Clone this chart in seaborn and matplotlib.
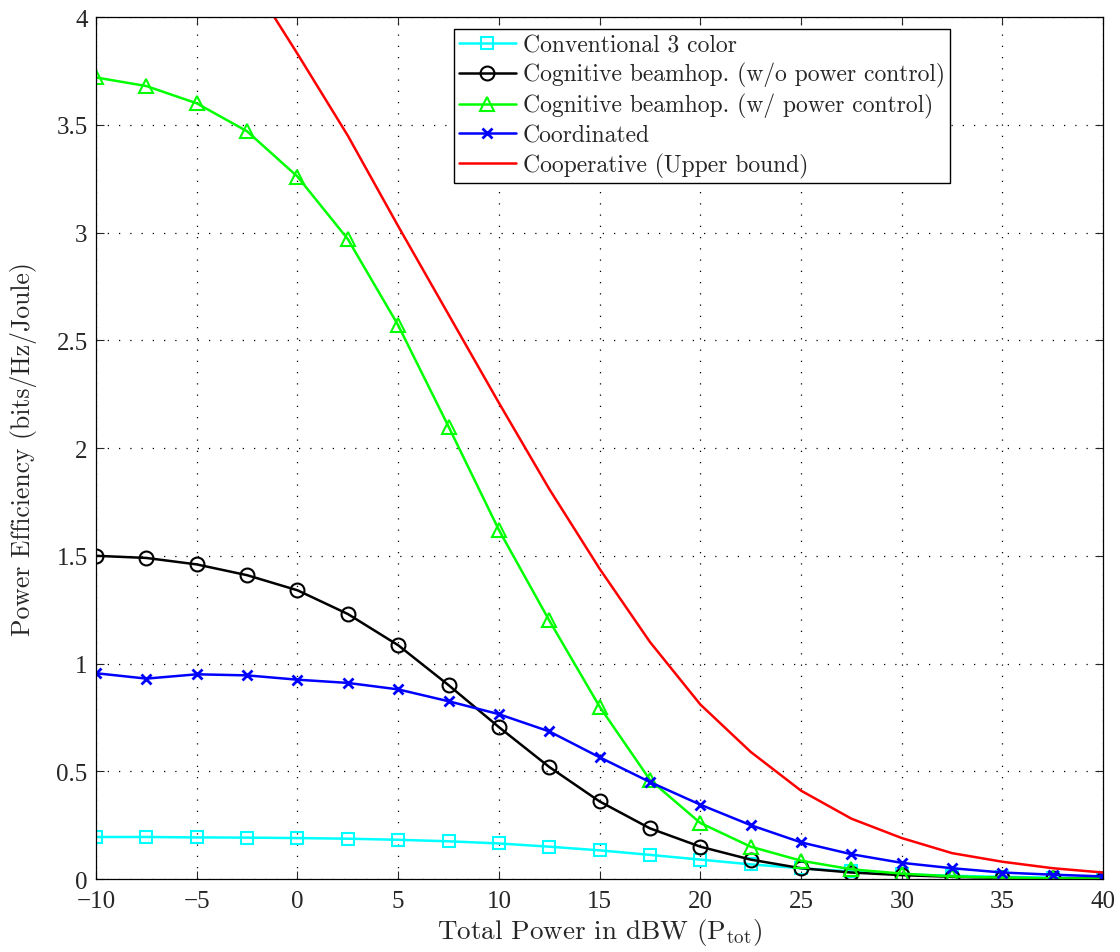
import matplotlib
matplotlib.use("Agg")
import matplotlib.pyplot as plt
from matplotlib.ticker import FuncFormatter, MultipleLocator
import seaborn as sns

# data (x in dBW, y in bits/Hz/Joule)
power_dbw = [-10, -7.5, -5, -2.5, 0, 2.5, 5, 7.5, 10, 12.5, 15, 17.5, 20,
             22.5, 25, 27.5, 30, 32.5, 35, 37.5, 40]

conventional = [0.195, 0.195, 0.193, 0.192, 0.190, 0.187, 0.182, 0.175, 0.165,
                0.150, 0.133, 0.112, 0.090, 0.068, 0.050, 0.035, 0.022, 0.015,
                0.010, 0.006, 0.004]
cog_no_pc = [1.50, 1.49, 1.46, 1.41, 1.34, 1.23, 1.085, 0.90, 0.705, 0.52,
             0.36, 0.235, 0.15, 0.09, 0.05, 0.03, 0.018, 0.010, 0.005, 0.003,
             0.002]
cog_pc = [3.72, 3.68, 3.60, 3.47, 3.26, 2.97, 2.57, 2.10, 1.62, 1.20, 0.80,
          0.46, 0.26, 0.15, 0.085, 0.045, 0.025, 0.012, 0.006, 0.003, 0.002]
coordinated = [0.955, 0.93, 0.95, 0.945, 0.925, 0.91, 0.88, 0.825, 0.765,
               0.685, 0.565, 0.45, 0.345, 0.25, 0.17, 0.115, 0.075, 0.05,
               0.03, 0.02, 0.012]
cooperative = [5.10, 4.85, 4.55, 4.20, 3.83, 3.45, 3.03, 2.62, 2.21, 1.81,
               1.44, 1.10, 0.81, 0.59, 0.41, 0.28, 0.19, 0.12, 0.08, 0.05,
               0.03]

labels = ['Conventional 3 color',
          'Cognitive beamhop. (w/o power control)',
          'Cognitive beamhop. (w/ power control)',
          'Coordinated',
          'Cooperative (Upper bound)']

sns.set_style('ticks')
plt.rcParams['font.family'] = ['cmr10', 'DejaVu Serif']
plt.rcParams['mathtext.fontset'] = 'cm'
plt.rcParams['axes.unicode_minus'] = False

fig = plt.figure(figsize=(11.2, 9.53), dpi=100)
ax = fig.add_axes([0.0857, 0.0766, 0.8993, 0.9044])

lw = 1.8
sns.lineplot(x=power_dbw, y=conventional, ax=ax, color='#00ffff', lw=lw,
             marker='s', ms=8, mfc='none', mec='#00ffff', mew=1.5, label=labels[0])
sns.lineplot(x=power_dbw, y=cog_no_pc, ax=ax, color='black', lw=lw,
             marker='o', ms=10, mfc='none', mec='black', mew=1.5, label=labels[1])
sns.lineplot(x=power_dbw, y=cog_pc, ax=ax, color='#00ff00', lw=lw,
             marker='^', ms=10, mfc='none', mec='#00ff00', mew=1.5, label=labels[2])
sns.lineplot(x=power_dbw, y=coordinated, ax=ax, color='blue', lw=lw,
             marker='x', ms=7, mec='blue', mew=2, label=labels[3])
sns.lineplot(x=power_dbw, y=cooperative, ax=ax, color='red', lw=lw,
             label=labels[4])

ax.set_xlim(-10, 40)
ax.set_ylim(0, 4)
ax.xaxis.set_major_locator(MultipleLocator(5))
ax.yaxis.set_major_locator(MultipleLocator(0.5))
fmt = FuncFormatter(lambda v, p: ('%g' % v).replace('-', '\u2212'))
ax.xaxis.set_major_formatter(fmt)
ax.yaxis.set_major_formatter(fmt)

ax.grid(True, color='black', linestyle=(0, (1, 8)), linewidth=0.9)
ax.tick_params(direction='in', top=True, right=True, length=6, width=0.8,
               labelsize=18)
ax.tick_params(axis='x', pad=8)
ax.tick_params(axis='y', pad=6)
fig.canvas.draw()
for lbl in ax.get_xticklabels() + ax.get_yticklabels():
    lbl.set_family(['Liberation Serif', 'DejaVu Serif'])
for s in ax.spines.values():
    s.set_visible(True)
    s.set_linewidth(0.9)
    s.set_color('black')

ax.set_xlabel(r'Total Power in dBW (P$_{\rm tot}$)', fontsize=19.5, labelpad=3)
ax.set_ylabel('Power Efficiency (bits/Hz/Joule)', fontsize=18.5, labelpad=14)

leg = ax.legend(loc='upper right', bbox_to_anchor=(0.848, 0.986),
                borderaxespad=0, fontsize=17, frameon=True, fancybox=False,
                framealpha=1, edgecolor='black', handlelength=2.4,
                labelspacing=0.25, borderpad=0.22, handletextpad=0.3)
leg.get_frame().set_linewidth(1.0)

fig.savefig('out.png', dpi=100)
